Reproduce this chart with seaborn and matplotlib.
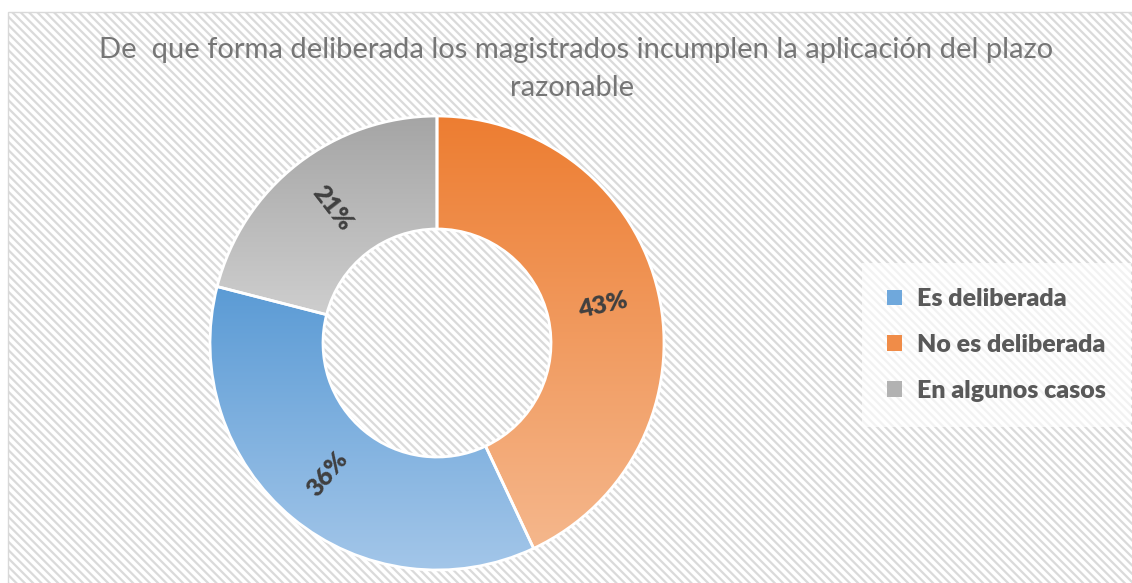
import numpy as np
import matplotlib
matplotlib.use("Agg")
import matplotlib.pyplot as plt
import seaborn as sns
from matplotlib.patches import Rectangle, Patch
from matplotlib.colors import LinearSegmentedColormap

# ---------------- data ----------------
categories = ["Es deliberada", "No es deliberada", "En algunos casos"]
values = [36, 43, 21]
pct_labels = ["36%", "43%", "21%"]
title_line1 = "De  que forma deliberada los magistrados incumplen la aplicación del plazo"
title_line2 = "razonable"

# ---------------- style ----------------
top_colors = ["#5B9BD5", "#ED7D31", "#A5A5A5"]
bottom_colors = ["#A3C6E9", "#F5B78C", "#CECECE"]
legend_colors = ["#6FA8DC", "#F08C48", "#B2B2B2"]

sns.set_theme(style="white")
plt.rcParams["font.family"] = ["Lato", "DejaVu Sans"]
plt.rcParams["hatch.linewidth"] = 1.6

W, H = 1132, 583
fig = plt.figure(figsize=(W / 100, H / 100), dpi=100)
fig.patch.set_facecolor("white")

# hatched chart-area background
bg = Rectangle((8 / W, 0), 1.0, 1 - 12 / H, transform=fig.transFigure,
               facecolor="white", edgecolor="#DADADA", hatch="\\\\\\\\",
               linewidth=0, zorder=-10)
fig.patches.append(bg)
border = Rectangle((8 / W, -0.01), 1.0, 1 - 12 / H + 0.01, transform=fig.transFigure,
                   facecolor="none", edgecolor="#D9D9D9", linewidth=1.0, zorder=-9)
fig.patches.append(border)

# ---------------- donut ----------------
cx, cy, R_ax = 437, 343, 240
ax = fig.add_axes([(cx - R_ax) / W, (H - cy - R_ax) / H, 2 * R_ax / W, 2 * R_ax / H])
ax.set_facecolor("none")
ax.axis("off")

outer = 227 / R_ax
inner = 114 / R_ax
total = float(sum(values))
start = 450 - 360 * (values[0] + values[1]) / total

wedges, _ = ax.pie(values, startangle=start, counterclock=True, radius=outer,
                   wedgeprops=dict(width=outer - inner, edgecolor="white", linewidth=2))

grad = np.linspace(0, 1, 256).reshape(-1, 1)
for w, c0, c1 in zip(wedges, top_colors, bottom_colors):
    ext = w.get_path().get_extents()
    cmap = LinearSegmentedColormap.from_list("g", [c1, c0])
    im = ax.imshow(grad, cmap=cmap, origin="lower",
                   extent=[ext.x0, ext.x1, ext.y0, ext.y1],
                   aspect="auto", zorder=1, interpolation="bilinear")
    im.set_clip_path(w)
    w.set_facecolor("none")
    w.set_zorder(2)

r_lab = (outer + inner) / 2
for w, lab in zip(wedges, pct_labels):
    ang = (w.theta1 + w.theta2) / 2.0
    x = r_lab * np.cos(np.radians(ang))
    y = r_lab * np.sin(np.radians(ang))
    rot = ang % 360
    if 90 < rot <= 270:
        rot -= 180
    elif rot > 270:
        rot -= 360
    ax.text(x, y, lab, rotation=rot, ha="center", va="center",
            fontsize=18, fontweight="heavy", color="#404040", zorder=3)

ax.set_xlim(-1, 1)
ax.set_ylim(-1, 1)

# ---------------- title ----------------
fig.text(576 / W, 1 - 50 / H, title_line1, ha="center", va="center",
         fontsize=21, color="#767676")
fig.text(572 / W, 1 - 88 / H, title_line2, ha="center", va="center",
         fontsize=21, color="#767676")

# ---------------- legend ----------------
handles = [Patch(facecolor=c, edgecolor="none") for c in legend_colors]
leg = fig.legend(handles, categories, loc="center left",
                 bbox_to_anchor=(862 / W, 1 - 345 / H), frameon=True,
                 prop=dict(weight="heavy", size=18), labelcolor="#595959",
                 handlelength=0.58, handleheight=0.58, handletextpad=0.62,
                 labelspacing=0.95, borderpad=1.0, fancybox=False,
                 borderaxespad=0)
frame = leg.get_frame()
frame.set_facecolor("white")
frame.set_alpha(0.65)
frame.set_edgecolor("none")

fig.savefig("out.png", dpi=100)
